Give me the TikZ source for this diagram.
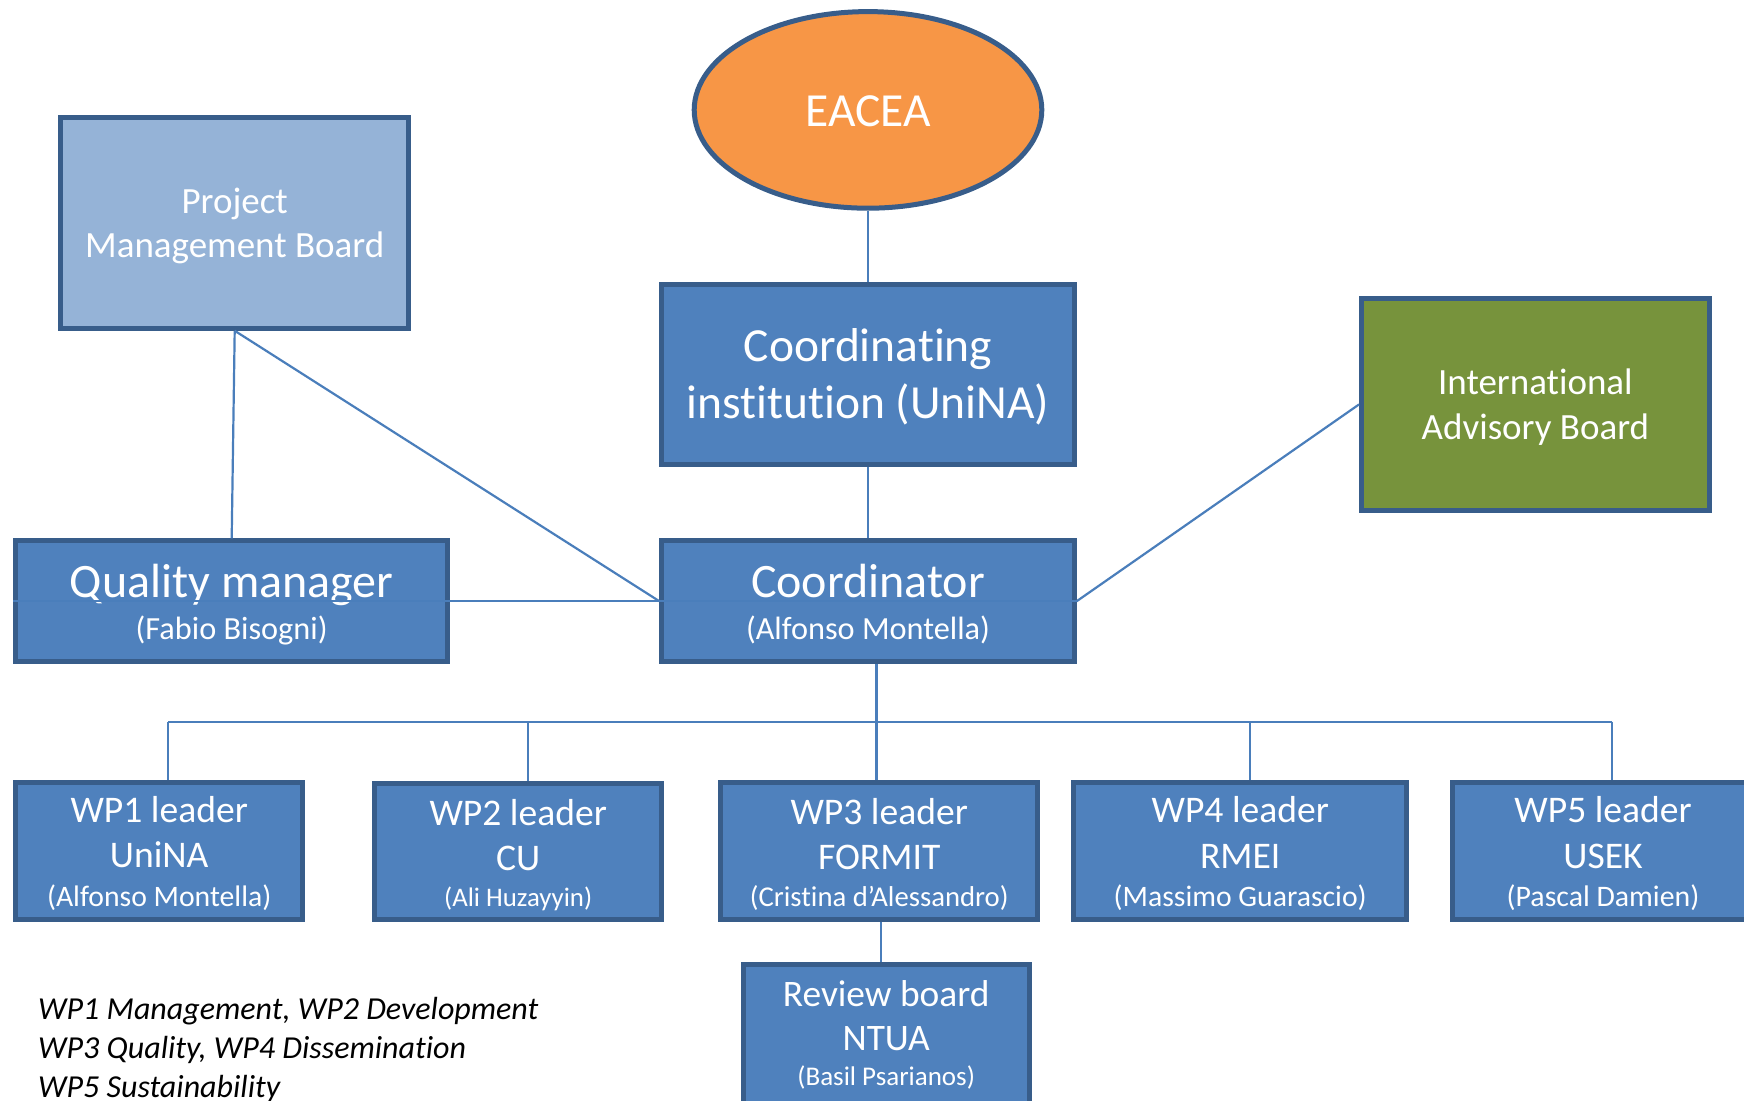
\documentclass[tikz,border=0pt]{standalone}
\usepackage{fontspec}
\setmainfont{Carlito}[Ligatures=NoCommon]
\usetikzlibrary{calc,shapes.geometric}
\definecolor{boxblue}{HTML}{4F81BD}
\definecolor{edgeblue}{HTML}{385D8A}
\definecolor{pmbblue}{HTML}{95B3D7}
\definecolor{iabgreen}{HTML}{77933C}
\definecolor{eaceaorange}{HTML}{F79646}
\definecolor{linkblue}{HTML}{4A7EBB}
\newcommand\fs[1]{\fontsize{#1}{0pt}\selectfont}
\newcommand\tst[1]{\rule{0pt}{#1}}
\newcommand\bst[1]{\rule[-#1]{0pt}{#1}}
\newcommand\tightlines{\lineskiplimit=-1000pt\lineskip=0pt\baselineskip=0pt\relax}
\tikzset{
  orgbox/.style={draw=edgeblue, line width=5pt, fill=boxblue, text=white, align=center,
    inner sep=0pt, font=\tightlines},
  conn/.style={draw=linkblue, line width=2.2pt},
}
\begin{document}
\begin{tikzpicture}[x=1pt,y=-1pt]
\useasboundingbox (0,0) rectangle (1744,1100);
\clip (0,0) rectangle (1744,1100);

% nodes
\node[orgbox, ellipse, fill=eaceaorange, minimum width=347.6pt, minimum height=196.6pt]
  (eacea) at (868,109.9) {\tst{45pt}\fs{47.5}EACEA\bst{12.8pt}};
\node[orgbox, fill=pmbblue, minimum width=347.7pt, minimum height=210.7pt]
  (pmb) at (234.7,222.9) {\tst{40pt}\fs{37}Project\\[44pt]\fs{37}Management Board\bst{15.2pt}};
\node[orgbox, minimum width=412.4pt, minimum height=180.6pt]
  (ci) at (868,374.5) {\tst{50pt}\fs{47.5}Coordinating\\[56.6pt]\fs{47.5}institution (UniNA)\bst{19pt}};
\node[orgbox, fill=iabgreen, minimum width=347.7pt, minimum height=211.7pt]
  (iab) at (1535.4,404.4) {\tst{40pt}\fs{37}International\\[45pt]\fs{37}Advisory Board\bst{15.2pt}};
\node[orgbox, minimum width=431.6pt, minimum height=120.7pt]
  (qm) at (231.7,601.2) {\tst{52pt}\fs{48}Quality manager\\[42.3pt]\fs{32.3}(Fabio Bisogni)\bst{17.5pt}};
\node[orgbox, minimum width=412.4pt, minimum height=120.7pt]
  (co) at (868,601.2) {\tst{52pt}\fs{48}Coordinator\\[42.3pt]\fs{32.3}(Alfonso Montella)\bst{17.5pt}};

\node[orgbox, minimum width=286.6pt, minimum height=135.8pt]
  (wp1) at (159.2,851.1) {\tst{40pt}\fs{37.6}WP1 leader\\[44.6pt]\fs{37.6}UniNA\\[38.7pt]\fs{29.7}(Alfonso Montella)\bst{13.5pt}};
\node[orgbox, minimum width=286.5pt, minimum height=135.8pt]
  (wp2) at (518.2,851.1) {\tst{42pt}\fs{37.6}WP2 leader\\[45pt]\fs{37.6}CU\\[36pt]\fs{26.8}(Ali Huzayyin)\bst{13.2pt}};
\node[orgbox, minimum width=316.7pt, minimum height=135.8pt]
  (wp3) at (879.2,851.1) {\tst{42pt}\fs{37.6}WP3 leader\\[44.7pt]\fs{37.6}FORMIT\\[37.7pt]\fs{28.7}(Cristina d’Alessandro)\bst{13.2pt}};
\node[orgbox, minimum width=332.6pt, minimum height=135.8pt]
  (wp4) at (1240.2,851.1) {\tst{40pt}\fs{37.6}WP4 leader\\[45.6pt]\fs{37.6}RMEI\\[38.4pt]\fs{29.7}(Massimo Guarascio)\bst{12.8pt}};
\node[orgbox, minimum width=301pt, minimum height=135.8pt]
  (wp5) at (1603,851.1) {\tst{40pt}\fs{37.6}WP5 leader\\[45.6pt]\fs{37.6}USEK\\[38.4pt]\fs{29.8}(Pascal Damien)\bst{12.8pt}};
\node[orgbox, minimum width=286pt, minimum height=142pt]
  (rb) at (886.2,1035.2) {\tst{40pt}\fs{37.4}Review board\\[44.7pt]\fs{37.4}NTUA\\[34.3pt]\fs{27}(Basil Psarianos)\bst{19.4pt}};

\node[anchor=west, align=left, inner sep=0pt, font=\tightlines, text=black]
  (legend) at (38,1045.85) {\tst{35pt}\fs{32}\itshape WP1 Management, WP2 Development\\[39.6pt]\fs{32}\itshape WP3 Quality, WP4 Dissemination\\[38.5pt]\fs{32}\itshape WP5 Sustainability\bst{10pt}};

% connectors
\draw[conn] (eacea.south) -- (ci.north);
\draw[conn] (ci.south) -- (co.north);
\draw[conn] (pmb.south) -- (qm.north);
\draw[conn] (pmb.south) -- (co.west);
\draw[conn] (qm.west) -- (co.east);
\draw[conn] (co.east) -- (iab.west);

\coordinate (d1) at (168,721.7);
\coordinate (d2) at (527.7,721.7);
\coordinate (hub) at (876.5,721.7);
\coordinate (d4) at (1250,721.7);
\coordinate (d5) at (1611.6,721.7);
\coordinate (rv) at (881,0);

\draw[conn] (co.south -| hub) -- (hub);
\draw[conn] (d1) -- (d5);
\draw[conn] (d1) -- (d1 |- wp1.north);
\draw[conn] (d2) -- (d2 |- wp2.north);
\draw[conn] (hub) -- (hub |- wp3.north);
\draw[conn] (d4) -- (d4 |- wp4.north);
\draw[conn] (d5) -- (d5 |- wp5.north);
\draw[conn] (wp3.south -| rv) -- (rb.north -| rv);
\end{tikzpicture}
\end{document}
